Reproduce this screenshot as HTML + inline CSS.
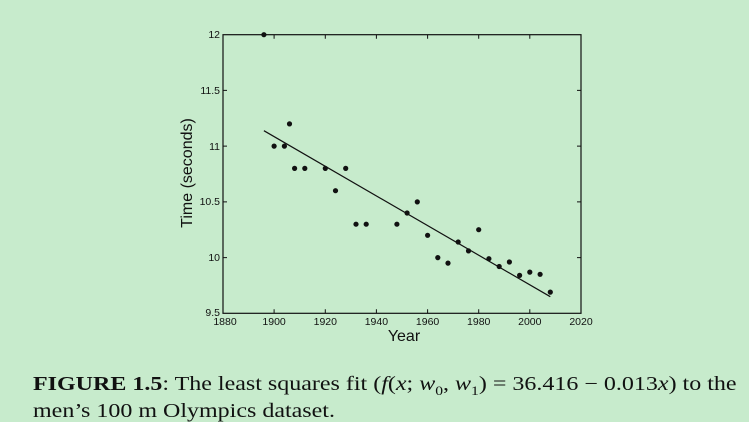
<!DOCTYPE html>
<html><head><meta charset="utf-8"><style>
body{margin:0;width:749px;height:420px;background:#c7ebcc;overflow:hidden;position:relative}
.cap{position:absolute;left:33px;top:374px;font-family:"Liberation Serif",serif;font-size:20px;line-height:21px;color:#111;white-space:nowrap;transform-origin:0 0;transform:scaleX(1.2)}
</style></head><body>
<svg width="749" height="360" style="position:absolute;left:0;top:0" font-family="Liberation Sans, sans-serif" fill="#111">
<rect x="223" y="34.7" width="358" height="278.6" fill="none" stroke="#111" stroke-width="1.2"/>
<g stroke="#111" stroke-width="1">
<path d="M274.1,313.3v-4M325.3,313.3v-4M376.4,313.3v-4M427.6,313.3v-4M478.7,313.3v-4M529.8,313.3v-4M274.1,34.7v4M325.3,34.7v4M376.4,34.7v4M427.6,34.7v4M478.7,34.7v4M529.8,34.7v4"/>
<path d="M223,90.4h4M223,146.1h4M223,201.9h4M223,257.6h4M581,90.4h-4M581,146.1h-4M581,201.9h-4M581,257.6h-4"/>
<line x1="263.9" y1="130.7" x2="550.3" y2="296.7" stroke-width="1.2"/>
</g>
<g font-size="10.5" text-anchor="end">
<text x="220" y="38">12</text><text x="220" y="94">11.5</text><text x="220" y="150">11</text><text x="220" y="205">10.5</text><text x="220" y="261">10</text><text x="220" y="316">9.5</text>
</g>
<g font-size="10.5" text-anchor="middle">
<text x="225" y="325">1880</text><text x="274.1" y="325">1900</text><text x="325.3" y="325">1920</text><text x="376.4" y="325">1940</text><text x="427.6" y="325">1960</text><text x="478.7" y="325">1980</text><text x="529.8" y="325">2000</text><text x="581" y="325">2020</text>
</g>
<text x="404" y="341" font-size="16" text-anchor="middle">Year</text>
<text transform="translate(192,173) rotate(-90)" font-size="16" text-anchor="middle">Time (seconds)</text>
<g>
<circle cx="263.9" cy="34.7" r="2.6"/><circle cx="274.1" cy="146.1" r="2.6"/><circle cx="284.4" cy="146.1" r="2.6"/><circle cx="289.5" cy="123.9" r="2.6"/><circle cx="294.6" cy="168.4" r="2.6"/><circle cx="304.8" cy="168.4" r="2.6"/><circle cx="325.3" cy="168.4" r="2.6"/><circle cx="335.5" cy="190.7" r="2.6"/><circle cx="345.7" cy="168.4" r="2.6"/><circle cx="356.0" cy="224.2" r="2.6"/><circle cx="366.2" cy="224.2" r="2.6"/><circle cx="396.9" cy="224.2" r="2.6"/><circle cx="407.1" cy="213.0" r="2.6"/><circle cx="417.3" cy="201.9" r="2.6"/><circle cx="427.6" cy="235.3" r="2.6"/><circle cx="437.8" cy="257.6" r="2.6"/><circle cx="448.0" cy="263.1" r="2.6"/><circle cx="458.2" cy="242.0" r="2.6"/><circle cx="468.5" cy="250.9" r="2.6"/><circle cx="478.7" cy="229.7" r="2.6"/><circle cx="488.9" cy="258.7" r="2.6"/><circle cx="499.2" cy="266.5" r="2.6"/><circle cx="509.4" cy="262.0" r="2.6"/><circle cx="519.6" cy="275.4" r="2.6"/><circle cx="529.8" cy="272.1" r="2.6"/><circle cx="540.1" cy="274.3" r="2.6"/><circle cx="550.3" cy="292.1" r="2.6"/>
</g>
</svg>
<div class="cap"><b>FIGURE 1.5</b>: The least squares fit (<i>f</i>(<i>x</i>; <i>w</i><sub style="font-size:13px">0</sub>, <i>w</i><sub style="font-size:13px">1</sub>) = 36.416 − 0.013<i>x</i>) to the<br>men’s 100 m Olympics dataset.</div>
</body></html>
